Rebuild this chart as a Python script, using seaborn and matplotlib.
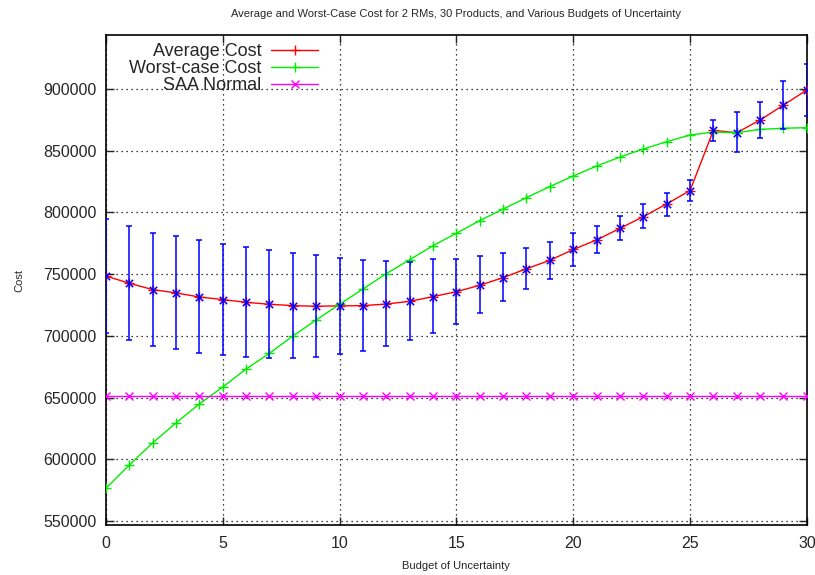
import matplotlib
matplotlib.use("Agg")
import matplotlib.pyplot as plt
import seaborn as sns
import numpy as np
import pandas as pd

budget = list(range(31))
avg_cost = [748500, 742600, 737500, 734800, 731500, 729400, 727200, 725600, 724500, 724000,
            724300, 724500, 725800, 728000, 731800, 735800, 741000, 747200, 754400, 761200,
            770000, 777700, 787100, 796600, 806900, 817700, 866500, 864600, 874900, 887000, 899200]
err_upper = [794700, 789000, 783600, 780700, 777400, 774700, 771800, 769600, 767200, 765300,
             763300, 761200, 760400, 759900, 762000, 762000, 764500, 766900, 771500, 776100,
             783100, 789300, 797400, 806900, 816000, 826000, 874600, 881100, 889500, 906700, 920500]
err_lower = [702600, 696700, 691800, 689100, 685900, 684300, 682900, 682100, 682100, 683200,
             685000, 687800, 691800, 696700, 702100, 709900, 718300, 728000, 737800, 746400,
             756900, 766900, 777400, 787100, 797400, 809000, 858100, 849000, 860000, 867300, 878100]
worst_cost = [576600, 595400, 613300, 629500, 644900, 658600, 673200, 685900, 699900, 712900,
              725600, 738000, 750400, 761700, 773100, 783100, 793400, 802800, 812000, 821000,
              829500, 837600, 844900, 851400, 857300, 862700, 865200, 864600, 867300, 868200, 868700]
saa_normal = [651500] * 31

xticks = [0, 5, 10, 15, 20, 25, 30]
yticks = [550000, 600000, 650000, 700000, 750000, 800000, 850000, 900000]

sns.set_style("ticks")
plt.rcParams['font.family'] = ['Liberation Sans', 'DejaVu Sans']

df = pd.DataFrame({"budget": budget, "avg": avg_cost, "worst": worst_cost, "saa": saa_normal,
                   "lo": err_lower, "hi": err_upper})

fig = plt.figure(figsize=(8.15, 5.75), dpi=100)
ax = fig.add_axes([0.130, 0.087, 0.860, 0.852])

red, green, magenta, blue = "#ff0000", "#00ee00", "#ff00ff", "#0000ff"
sns.lineplot(data=df, x="budget", y="avg", ax=ax, color=red, marker="+", markersize=7,
             markeredgewidth=1.0, markeredgecolor=red, linewidth=1, label="Average Cost", zorder=3)
sns.lineplot(data=df, x="budget", y="worst", ax=ax, color=green, marker="+", markersize=7,
             markeredgewidth=1.0, markeredgecolor=green, linewidth=1, label="Worst-case Cost", zorder=3)
sns.lineplot(data=df, x="budget", y="saa", ax=ax, color=magenta, marker="x", markersize=6,
             markeredgewidth=1.0, markeredgecolor=magenta, linewidth=1, label="SAA Normal", zorder=3)

avg = np.array(avg_cost)
ax.errorbar(df["budget"], avg, yerr=[avg - np.array(err_lower), np.array(err_upper) - avg],
            fmt="none", ecolor=blue, elinewidth=1.1, capsize=2.5, capthick=1.1, zorder=4)
ax.scatter(df["budget"], avg, marker="x", color=blue, s=28, linewidths=1.1, zorder=5)

ax.set_xlim(0, 30)
ax.set_ylim(546800, 943700)
ax.set_xticks(xticks)
ax.set_yticks(yticks)
ax.set_yticklabels([str(v) for v in yticks])
ax.tick_params(direction="in", labelsize=11.5, top=True, right=True, length=6, width=1, pad=7)
ax.tick_params(axis="x", pad=8)
ax.grid(True, color="black", linestyle=(0, (1, 3)), linewidth=0.9)
for s in ax.spines.values():
    s.set_linewidth(1.2)
    s.set_color("black")

ax.set_xlabel("Budget of Uncertainty", fontsize=8, labelpad=7)
ax.set_ylabel("Cost", fontsize=8, labelpad=13)
ax.set_title("Average and Worst-Case Cost for 2 RMs, 30 Products, and Various Budgets of Uncertainty",
             fontsize=8, pad=13)

leg = ax.legend(loc="upper left", bbox_to_anchor=(0.015, 1.009), frameon=False, markerfirst=False,
                fontsize=13, handlelength=2.6, labelspacing=0.0, borderaxespad=0.3,
                handletextpad=0.55)
leg.set_zorder(10)

fig.savefig("out.png", dpi=100)
